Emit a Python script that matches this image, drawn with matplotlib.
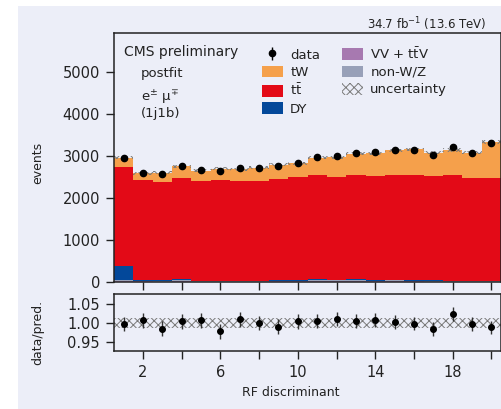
import numpy as np
import matplotlib
matplotlib.use("Agg")
import matplotlib.pyplot as plt
from matplotlib.patches import Patch, Rectangle
from matplotlib.ticker import FixedLocator, FuncFormatter

# ---- data: 20 bins of the RF discriminant ----
bin_centers = np.arange(1, 21)
vv_ttv = [20, 15, 10, 15, 10, 10, 10, 10, 15, 15, 15, 15, 15, 15, 15, 15, 10, 10, 10, 10]
non_wz = [30, 20, 10, 30, 5, 10, 5, 15, 20, 15, 25, 25, 30, 20, 25, 20, 15, 15, 15, 15]
dy = [320, 20, 25, 35, 10, 15, 20, 10, 10, 15, 20, 15, 20, 15, 15, 10, 15, 10, 10, 10]
ttbar_top = [2734, 2427, 2389, 2492, 2413, 2437, 2404, 2420, 2468, 2508,
             2563, 2516, 2556, 2540, 2548, 2563, 2524, 2563, 2476, 2476]
total_pred = [2962, 2594, 2610, 2762, 2659, 2707, 2691, 2723, 2795, 2834,
              2962, 2978, 3058, 3073, 3137, 3161, 3085, 3145, 3089, 3344]
data = [2953, 2612, 2571, 2773, 2678, 2647, 2715, 2723, 2767, 2845,
        2974, 3008, 3070, 3095, 3143, 3155, 3039, 3214, 3077, 3307]
rel_unc = 0.013

lower_stack = np.array(vv_ttv) + np.array(non_wz) + np.array(dy)
ttbar = np.array(ttbar_top) - lower_stack
tw = np.array(total_pred) - np.array(ttbar_top)

processes = [
    ("VV + t$\\bar{\\rm t}$V", vv_ttv, "#a779b0"),
    ("non-W/Z", non_wz, "#98a0b8"),
    ("DY", dy, "#03489a"),
    ("t$\\bar{\\rm t}$", ttbar, "#e30a17"),
    ("tW", tw, "#f5a04b"),
]

BG = "#eceef8"
UNC_COLOR = "#7a7a7a"
TXT = "#222222"
plt.rcParams["font.family"] = ["DejaVu Sans"]
plt.rcParams["hatch.linewidth"] = 0.7
plt.rcParams["mathtext.fontset"] = "dejavusans"

fig = plt.figure(figsize=(5.02, 4.09), dpi=100, facecolor="white")
fig.patches.append(Rectangle((18 / 502, 0), 1 - 18 / 502, 1 - 6 / 409,
                             transform=fig.transFigure, facecolor=BG,
                             edgecolor="none", zorder=-10))

W, H = 502, 409
ax = fig.add_axes([114 / W, 1 - 282 / H, 387 / W, 249 / H])
rax = fig.add_axes([114 / W, 1 - 351 / H, 387 / W, 57 / H])
for a in (ax, rax):
    a.set_facecolor(BG)
    for s in a.spines.values():
        s.set_linewidth(1.1)
        s.set_color(TXT)

edges = np.arange(0.5, 21.0, 1.0)
x = np.array(bin_centers)
total = np.array(total_pred, dtype=float)
obs = np.array(data, dtype=float)

# stacked predictions
base = np.zeros(len(x))
for name, vals, col in processes:
    vals = np.asarray(vals, dtype=float)
    ax.stairs(base + vals, edges, baseline=base, fill=True,
              facecolor=col, edgecolor="none", linewidth=0)
    base = base + vals

# uncertainty band on the total
ax.stairs(total * (1 + rel_unc), edges, baseline=total * (1 - rel_unc),
          fill=True, facecolor="none", edgecolor=UNC_COLOR, linewidth=0,
          hatch="xxxx")

data_handle = ax.errorbar(x, obs, yerr=np.sqrt(obs), fmt="o", color="black",
                          markersize=4.5, elinewidth=1.0, capsize=0, zorder=5)

ax.set_xlim(0.5, 20.5)
ax.set_ylim(0, 5940)
ax.set_yticks([0, 1000, 2000, 3000, 4000, 5000])
ax.xaxis.set_major_locator(FixedLocator(np.arange(2, 21, 2)))
ax.tick_params(axis="x", labelbottom=False)
ax.tick_params(direction="out", length=6, width=1.0, labelsize=10.5,
               color=TXT, labelcolor=TXT, pad=4)

# legend
handles = [
    data_handle,
    Patch(facecolor="#f5a04b", edgecolor="none"),
    Patch(facecolor="#e30a17", edgecolor="none"),
    Patch(facecolor="#03489a", edgecolor="none"),
    Patch(facecolor="#a779b0", edgecolor="none"),
    Patch(facecolor="#98a0b8", edgecolor="none"),
    Patch(facecolor="none", edgecolor=UNC_COLOR, linewidth=0, hatch="xxxx"),
]
labels = ["data", "tW", "t$\\bar{\\rm t}$", "DY", "VV + t$\\bar{\\rm t}$V",
          "non-W/Z", "uncertainty"]
leg = ax.legend(handles, labels, ncol=2, loc="upper left",
                bbox_to_anchor=(0.382, 0.948), frameon=False, fontsize=9.5,
                handlelength=1.6, handleheight=1.0, handletextpad=0.55,
                columnspacing=1.65, labelspacing=0.3, borderpad=0,
                borderaxespad=0)
for t in leg.get_texts():
    t.set_color(TXT)

ax.text(0.026, 0.924, "CMS preliminary", transform=ax.transAxes,
        fontsize=10, color=TXT, va="center", ha="left")
ax.text(0.07, 0.839, "postfit", transform=ax.transAxes,
        fontsize=9.5, color=TXT, va="center", ha="left")
ax.text(0.07, 0.745, "e$^{\\pm}$ \u03bc$^{\\mp}$", transform=ax.transAxes,
        fontsize=9.5, color=TXT, va="center", ha="left")
ax.text(0.07, 0.677, "(1j1b)", transform=ax.transAxes,
        fontsize=9.5, color=TXT, va="center", ha="left")

fig.text(486 / W, 1 - 24 / H, "34.7 fb$^{-1}$ (13.6 TeV)", fontsize=8.5,
         color=TXT, ha="right", va="center")
fig.text(38 / W, 1 - 163 / H, "events", rotation=90, fontsize=9,
         color=TXT, ha="center", va="center")

# ratio panel
ratio = obs / total
ratio_err = np.sqrt(obs) / total
rax.stairs(np.full(len(x), 1 + rel_unc), edges,
           baseline=np.full(len(x), 1 - rel_unc), fill=True,
           facecolor="none", edgecolor=UNC_COLOR, linewidth=0, hatch="xxxx")
rax.errorbar(x, ratio, yerr=ratio_err, fmt="o", color="black",
             ecolor="#333333", markersize=4.0, elinewidth=1.0, capsize=0,
             zorder=5)
rax.set_xlim(0.5, 20.5)
rax.set_ylim(0.927, 1.075)
rax.set_yticks([0.95, 1.00, 1.05])
rax.yaxis.set_major_formatter(FuncFormatter(lambda v, p: f"{v:.2f}"))
rax.xaxis.set_major_locator(FixedLocator(np.arange(2, 21, 2)))
rax.xaxis.set_major_formatter(
    FuncFormatter(lambda v, p: f"{int(round(v))}" if int(round(v)) % 4 == 2 else ""))
rax.tick_params(direction="out", length=6, width=1.0, labelsize=10.5,
                color=TXT, labelcolor=TXT, pad=4)

fig.text(38 / W, 1 - 332 / H, "data/pred.", rotation=90, fontsize=9,
         color=TXT, ha="center", va="center")
fig.text(291 / W, 1 - 392 / H, "RF discriminant", fontsize=9,
         color=TXT, ha="center", va="center")

fig.savefig("out.png", dpi=100, facecolor="white")
